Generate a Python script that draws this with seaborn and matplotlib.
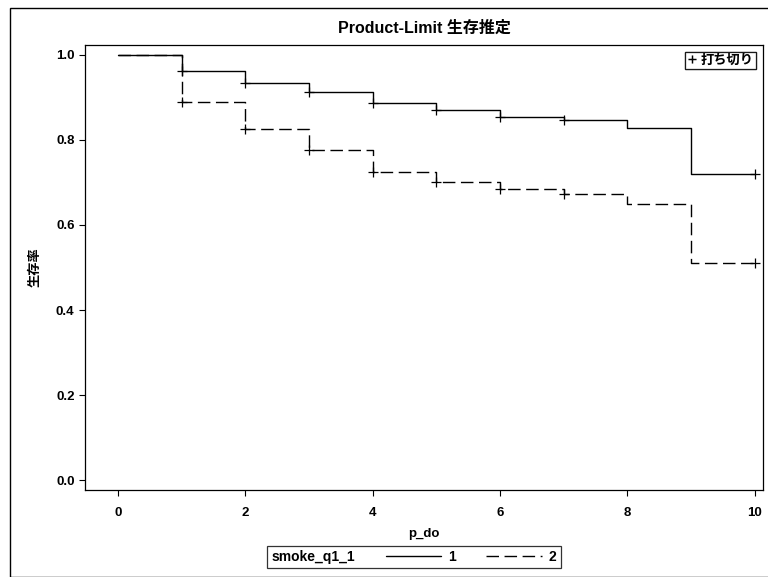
import pandas as pd
import matplotlib.pyplot as plt
import seaborn as sns
from matplotlib.lines import Line2D
from matplotlib.patches import Rectangle

# Data (Kaplan-Meier step values at each time)
times = [0, 1, 2, 3, 4, 5, 6, 7, 8, 9, 10]
surv_1 = [1.0, 0.963, 0.935, 0.913, 0.886, 0.871, 0.855, 0.847, 0.829, 0.719, 0.719]
surv_2 = [1.0, 0.890, 0.825, 0.776, 0.724, 0.702, 0.685, 0.672, 0.649, 0.510, 0.510]
censor_times = [1, 2, 3, 4, 5, 6, 7, 10]
groups = ['1', '2']

sns.set_style('white')
plt.rcParams['font.family'] = ['Liberation Sans Narrow', 'Liberation Sans', 'Noto Sans CJK JP']
plt.rcParams['font.weight'] = 'bold'
plt.rcParams['text.color'] = 'black'
plt.rcParams['axes.labelcolor'] = 'black'

df = pd.DataFrame({
    'p_do': times * 2,
    'surv': surv_1 + surv_2,
    'smoke_q1_1': ['1'] * len(times) + ['2'] * len(times),
})
cens = df[df['p_do'].isin(censor_times)]

fig = plt.figure(figsize=(7.68, 5.77), dpi=100)
ax = fig.add_axes([85 / 768, 1 - 490 / 577, (763 - 85) / 768, (490 - 45) / 577])

sns.lineplot(data=df, x='p_do', y='surv', style='smoke_q1_1', color='black',
             dashes={'1': '', '2': (9, 4)}, drawstyle='steps-post',
             linewidth=1, estimator=None, legend=False, ax=ax)
sns.scatterplot(data=cens, x='p_do', y='surv', marker='+', color='black',
                s=45, linewidth=0.9, legend=False, ax=ax)

ax.set_xlim(-0.52, 10.13)
ax.set_ylim(-0.0235, 1.0235)
ax.set_xticks([0, 2, 4, 6, 8, 10])
ax.set_yticks([0.0, 0.2, 0.4, 0.6, 0.8, 1.0])
ax.set_yticklabels(['0.0', '0.2', '0.4', '0.6', '0.8', '1.0'])
ax.tick_params(axis='both', direction='out', length=4, width=0.8, colors='black',
               labelsize=9.5, left=True, bottom=True)
ax.tick_params(axis='x', pad=8)
for s in ax.spines.values():
    s.set_color('black')
    s.set_linewidth(0.9)

ax.set_xlabel('p_do', fontsize=9.5, fontweight='bold', labelpad=7)
ax.set_ylabel('生存率', fontsize=9.5, fontweight='bold', labelpad=10)
ax.set_title('Product-Limit 生存推定', fontsize=11.5, fontweight='bold', pad=9)

# Censoring legend (top right)
cens_handle = Line2D([], [], marker='+', color='black', linestyle='none', markersize=6)
leg1 = ax.legend([cens_handle], ['打ち切り'], loc='upper right', fontsize=9.5,
                 frameon=True, fancybox=False, edgecolor='black', handlelength=0.6,
                 handletextpad=0.4, borderpad=0.2, borderaxespad=0.5)
leg1.get_frame().set_linewidth(0.9)
ax.add_artist(leg1)

# Group legend (bottom), title placed to the left of the entries
h1 = Line2D([], [], color='black', linewidth=1)
h2 = Line2D([], [], color='black', linewidth=1, dashes=(9, 4))
leg2 = fig.legend([h1, h2], groups, title='smoke_q1_1', loc='center',
                  bbox_to_anchor=(414 / 768, 1 - 557 / 577), ncol=2, fontsize=10,
                  title_fontsize=10, frameon=True, fancybox=False, edgecolor='black',
                  handlelength=4, handletextpad=0.5, columnspacing=0.8, borderpad=0.3)
leg2.get_frame().set_linewidth(0.9)
c = leg2.get_children()[0]
title_box = c.get_children()[0]
hpack = c.get_children()[1]
c._children = [hpack]
hpack._children = [title_box] + hpack.get_children()
hpack.sep = 22

# Outer border of the figure
fig.patches.append(Rectangle((10 / 768, 0), 1, 1 - 8 / 577, transform=fig.transFigure,
                             fill=False, edgecolor='black', linewidth=1))

fig.savefig('out.png', dpi=100)
plt.close()
